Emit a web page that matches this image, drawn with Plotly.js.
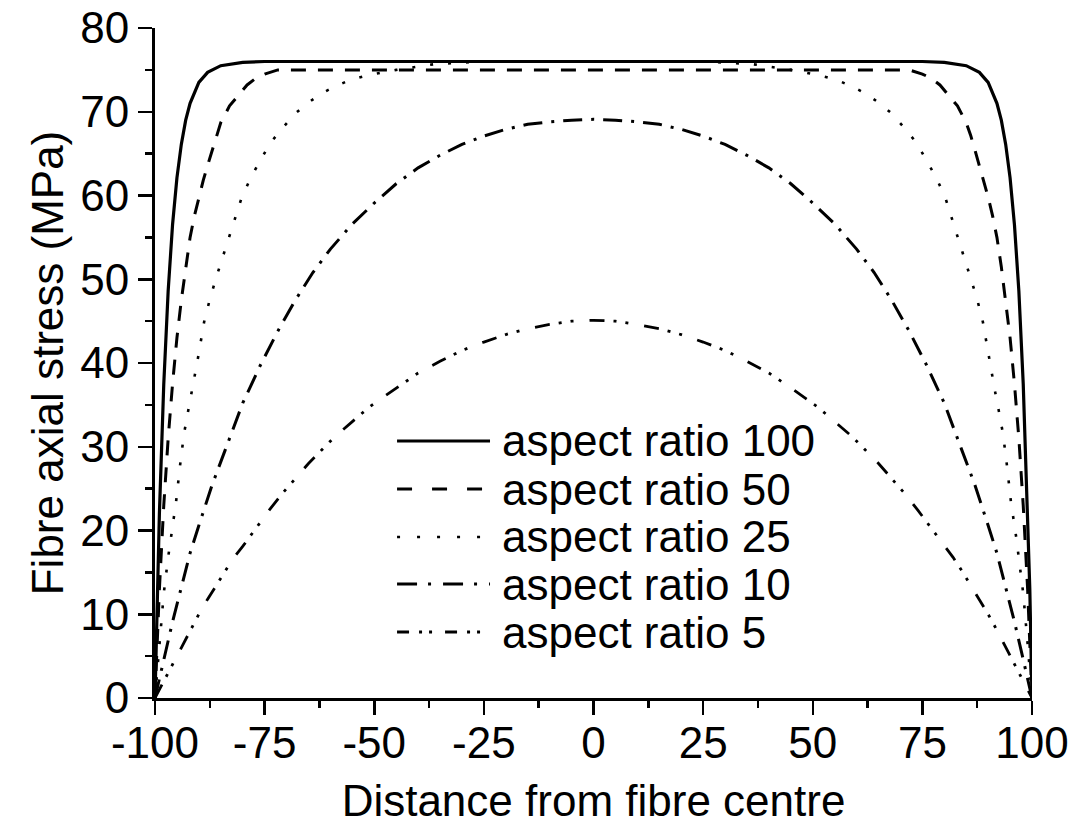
<!DOCTYPE html>
<html><head><meta charset="utf-8">
<script src="https://cdn.plot.ly/plotly-3.0.1.min.js"></script>
<style>html,body{margin:0;padding:0;background:#fff}</style>
</head><body>
<div id="chart" style="width:1072px;height:825px"></div>
<script>
// ---- data ----
const seriesNames = ["aspect ratio 100", "aspect ratio 50", "aspect ratio 25", "aspect ratio 10", "aspect ratio 5"];

const x100 = [-100,-99.5,-99,-98,-97,-96,-95,-94,-93,-92,-90,-88,-85,-80,-75,-50,0,50,75,80,85,88,90,92,93,94,95,96,97,98,99,99.5,100];
const y100 = [0,13,22,37.5,48.6,56.5,62.1,66.1,69,71,73.5,74.7,75.5,75.9,76,76,76,76,76,75.9,75.5,74.7,73.5,71,69,66.1,62.1,56.5,48.6,37.5,22,13,0];

const x50 = [-100,-99,-98,-97,-96,-95,-94,-93,-92,-91,-90,-89,-88,-87,-86,-85,-83,-81,-79,-77,-75,-72,0,72,75,77,79,81,83,85,86,87,88,89,90,91,92,93,94,95,96,97,98,99,100];
const y50 = [0,13,23,31,37.5,43,47.5,51.5,55,57.6,59.8,61.8,63.6,65.4,67.2,68.7,70.7,72,73.2,74,74.5,75,75,75,74.5,74,73.2,72,70.7,68.7,67.2,65.4,63.6,61.8,59.8,57.6,55,51.5,47.5,43,37.5,31,23,13,0];

const x25 = [-100,-99,-98,-97,-96.4,-95.2,-94.3,-93.4,-92.5,-91.5,-90.2,-88.8,-87.4,-85.8,-84.2,-82.4,-80.2,-78,-76,-73.8,-71,-68,-65,-62,-59,-55.5,-51,-45,-36,-25,0,25,36,45,51,55.5,59,62,65,68,71,73.8,76,78,80.2,82.4,84.2,85.8,87.4,88.8,90.2,91.5,92.5,93.4,94.3,95.2,96.4,97,98,99,100];
const y25 = [0,6.5,12.5,16.8,19.2,23.4,27.7,31.5,34.1,36.8,40.6,44.9,47.8,50.6,53.2,56.2,59.8,62.3,64.1,66.2,68,69.8,71.1,72.2,73,73.8,74.4,75,75.7,76,76,76,75.7,75,74.4,73.8,73,72.2,71.1,69.8,68,66.2,64.1,62.3,59.8,56.2,53.2,50.6,47.8,44.9,40.6,36.8,34.1,31.5,27.7,23.4,19.2,16.8,12.5,6.5,0];

const x10 = [-100,-98,-96,-94,-92,-90,-87,-84,-80,-76,-72,-68,-64,-60,-55,-50,-45,-40,-35,-30,-25,-20,-15,-10,-5,0,5,10,15,20,25,30,35,40,45,50,55,60,64,68,72,76,80,84,87,90,92,94,96,98,100];
const y10 = [0,4.6,9.1,13.2,17.3,20.6,25.4,29.6,35.2,39.7,43.8,47.5,50.8,53.6,56.6,59.1,61.4,63.3,64.8,66.1,67.1,67.9,68.5,68.8,69,69.1,69,68.8,68.5,67.9,67.1,66.1,64.8,63.3,61.4,59.1,56.6,53.6,50.8,47.5,43.8,39.7,35.2,29.6,25.4,20.6,17.3,13.2,9.1,4.6,0];

const x5 = [-100,-98,-96,-94,-92,-90,-88,-86,-84,-82,-80,-77,-74,-71,-68,-65,-62,-59,-55,-51,-48,-44,-40,-35,-30,-25,-20,-15,-10,-5,0,5,10,15,20,25,30,35,40,44,48,51,55,59,62,65,68,71,74,77,80,82,84,86,88,90,92,94,96,98,100];
const y5 = [0,2,4,6.1,8.1,10,11.8,13.5,15.2,16.8,18.1,20.3,22.4,24.4,26.2,28,29.6,31.2,33,34.8,35.9,37.4,38.8,40.2,41.5,42.5,43.4,44.1,44.6,45,45.1,45,44.6,44.1,43.4,42.5,41.5,40.2,38.8,37.4,35.9,34.8,33,31.2,29.6,28,26.2,24.4,22.4,20.3,18.1,16.8,15.2,13.5,11.8,10,8.1,6.1,4,2,0];

const xTickVals = [-100,-75,-50,-25,0,25,50,75,100];
const xTickText = ["-100","-75","-50","-25","0","25","50","75","100"];
const yTickVals = [0,10,20,30,40,50,60,70,80];
const yTickText = ["0","10","20","30","40","50","60","70","80"];
const xTitle = "Distance from fibre centre";
const yTitle = "Fibre axial stress (MPa)";

// ---- styles ----
const FONT = "Liberation Sans, Arial, sans-serif";
const plotDash = ["solid", "15px,12px", "3px,15px", "19px,9px,3px,9px", "15px,9px,3px,9px,3px,16px"];
const legendDash = ["solid", "15px,20px", "3px,17px", "20px,11px,3px,12px", "12px,10px,3px,7px,3px,13px"];
const widths = [3.2, 3, 2.6, 3, 2.8];

const xs = [x100, x50, x25, x10, x5];
const ys = [y100, y50, y25, y10, y5];

const traces = xs.map((xv, i) => ({
  type: "scatter", mode: "lines", x: xv, y: ys[i], name: seriesNames[i],
  line: {color: "#000", width: widths[i], dash: plotDash[i]},
  showlegend: false, hoverinfo: "skip"
}));

// manual legend (tight row spacing like the original)
const legX0 = 0.276, legX1 = 0.382, legTextX = 0.393;
const legY = [0.3836, 0.3119, 0.2403, 0.1701, 0.0985];
const shapes = seriesNames.map((n, i) => ({
  type: "line", xref: "paper", yref: "paper",
  x0: legX0, x1: legX1, y0: legY[i], y1: legY[i],
  line: {color: "#000", width: widths[i], dash: legendDash[i]}
}));
const annotations = seriesNames.map((n, i) => ({
  xref: "paper", yref: "paper", x: legTextX, y: legY[i],
  xanchor: "left", yanchor: "middle", text: n, showarrow: false,
  font: {family: FONT, size: 44, color: "#000"}
}));

const axisCommon = {
  showgrid: false, zeroline: false, showline: true, linecolor: "#000", linewidth: 3,
  ticks: "outside", ticklen: 14, tickwidth: 2.5, tickcolor: "#000",
  tickfont: {family: FONT, size: 44, color: "#000"}, mirror: false, automargin: false
};

const layout = {
  width: 1072, height: 825,
  margin: {l: 155, r: 40, t: 28, b: 127},
  paper_bgcolor: "#fff", plot_bgcolor: "#fff",
  font: {family: FONT, color: "#000"},
  xaxis: Object.assign({}, axisCommon, {
    range: [-100, 100], tickmode: "array", tickvals: xTickVals, ticktext: xTickText,
    ticklabelstandoff: -10,
    minor: {dtick: 12.5, tick0: 0, ticks: "outside", ticklen: 7, tickwidth: 2.5, tickcolor: "#000", showgrid: false},
    title: {text: xTitle, font: {family: FONT, size: 44, color: "#000"}, standoff: 24}
  }),
  yaxis: Object.assign({}, axisCommon, {
    range: [0, 80], tickmode: "array", tickvals: yTickVals, ticktext: yTickText,
    minor: {dtick: 5, tick0: 0, ticks: "outside", ticklen: 7, tickwidth: 2.5, tickcolor: "#000", showgrid: false},
    title: {text: yTitle, font: {family: FONT, size: 44, color: "#000"}, standoff: 3}
  }),
  shapes: shapes,
  annotations: annotations,
  showlegend: false
};

Plotly.newPlot("chart", traces, layout, {displayModeBar: false, staticPlot: true});
</script>
</body></html>
